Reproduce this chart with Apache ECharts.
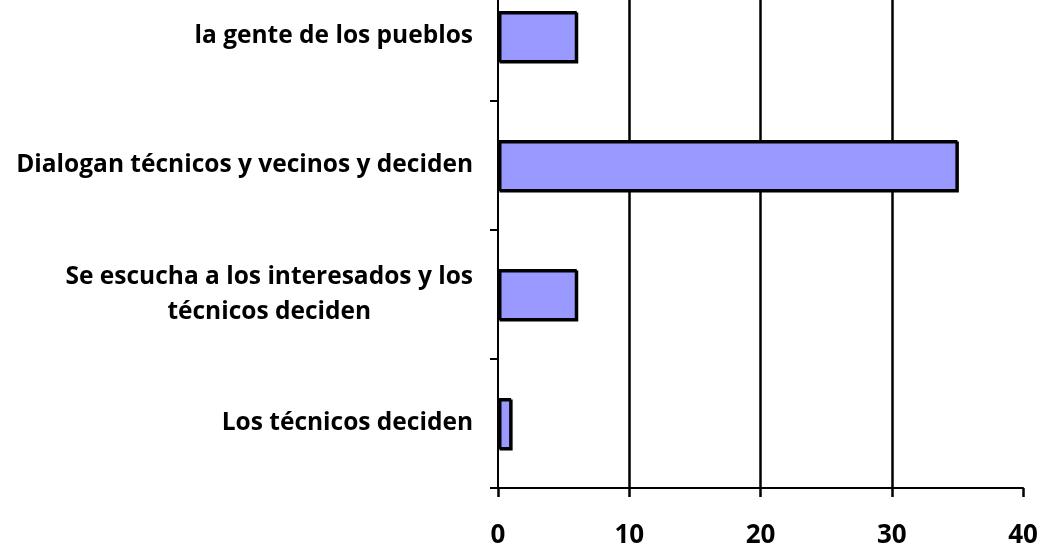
<!DOCTYPE html>
<html><head><meta charset="utf-8">
<script src="https://cdn.jsdelivr.net/npm/echarts@6/dist/echarts.min.js"></script>
<style>html,body{margin:0;padding:0;background:#fff;overflow:hidden}#c{width:1041px;height:582px;position:absolute;left:0;top:-28px}</style>
</head><body><div id="c"></div>
<script>
const categories = [
  'Los técnicos deciden',
  'Se escucha a los interesados y los\ntécnicos deciden',
  'Dialogan técnicos y vecinos y deciden',
  'la gente de los pueblos'
];
const values = [1, 6, 35, 6];
const xTicks = { min: 0, max: 40, interval: 10 };

const FONT = "'Open Sans', 'Noto Sans', sans-serif";
const chart = echarts.init(document.getElementById('c'));
chart.setOption({
  animation: false,
  backgroundColor: '#fff',
  grid: { left: 498, right: 18, top: 0, bottom: 66, containLabel: false },
  xAxis: {
    type: 'value', min: xTicks.min, max: xTicks.max, interval: xTicks.interval,
    axisLine: { show: true, lineStyle: { color: '#000', width: 2 } },
    axisTick: { show: true, inside: false, length: 9, lineStyle: { color: '#000', width: 2.5 } },
    axisLabel: { margin: 35, color: '#000', fontFamily: FONT, fontWeight: 'bold', fontSize: 26 },
    splitLine: { show: true, showMinLine: false, showMaxLine: false, lineStyle: { color: '#000', width: 2.5 } }
  },
  yAxis: {
    type: 'category', data: categories,
    axisLine: { show: true, lineStyle: { color: '#000', width: 2 } },
    axisTick: { show: true, length: 8, lineStyle: { color: '#000', width: 2 } },
    axisLabel: {
      margin: 25, color: '#000', fontFamily: FONT, fontWeight: 'bold', fontSize: 24.5, lineHeight: 35,
      formatter: v => v.split('\n').map(s => '{c|' + s + '}').join('\n'),
      rich: { c: { align: 'center', color: '#000', fontFamily: FONT, fontWeight: 'bold', fontSize: 24.5, lineHeight: 35 } }
    },
    splitLine: { show: false }
  },
  series: [{
    type: 'bar', data: values, barWidth: 51,
    itemStyle: { color: '#9999FF', borderColor: '#000', borderWidth: 2,
      shadowColor: '#000', shadowOffsetX: 1.5, shadowOffsetY: 1.5, shadowBlur: 0 }
  }]
});
</script></body></html>
